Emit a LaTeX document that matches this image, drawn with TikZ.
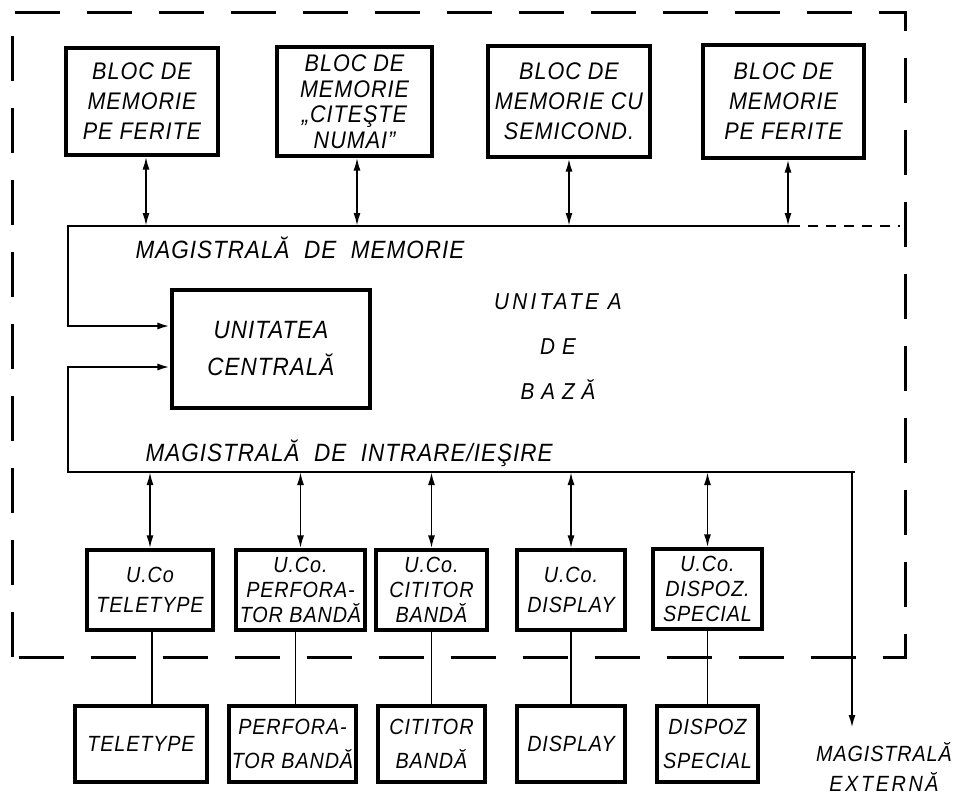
\documentclass[tikz,border=0pt]{standalone}
\usepackage{fontspec}
\setmainfont{Liberation Sans}[LetterSpace=4,FakeStretch=0.9]
\usetikzlibrary{arrows.meta}
\begin{document}
\begin{tikzpicture}[x=1pt,y=-1pt,
  box/.style={draw,line width=3.2pt,inner sep=0pt,align=center},
  memfont/.style={font=\itshape\fontsize{24}{30}\selectfont},
  memfonttwo/.style={font=\itshape\fontsize{24}{25.5}\selectfont},
  cofont/.style={font=\itshape\fontsize{22}{25}\selectfont},
  cofontwide/.style={font=\itshape\fontsize{22}{30}\selectfont},
  devfont/.style={font=\itshape\fontsize{22}{34}\selectfont},
  lblfont/.style={font=\itshape\fontsize{25}{26}\selectfont},
  bus/.style={line width=2.4pt},
  biarrow/.style={line width=1.9pt,{Latex[length=13pt,width=7pt]}-{Latex[length=13pt,width=7pt]}},
  onearrow/.style={line width=2pt,-{Latex[length=13pt,width=7pt]}},
  link/.style={line width=1.9pt},
  boundary/.style={line width=3pt,dash pattern=on 45pt off 27pt},
  shortdash/.style={line width=2.4pt,dash pattern=on 10pt off 8pt}
]
\useasboundingbox (0,0) rectangle (958,795);
\fill[white] (0,0) rectangle (958,795);

% outer dashed boundary
\draw[boundary] (12,657) -- (12,12) -- (905,12) -- (905,657) -- cycle;

% memory blocks
\node[box,memfont,minimum width=152pt,minimum height=107pt] (m1) at (142,101.5) {BLOC DE\\MEMORIE\\PE FERITE};
\node[box,memfonttwo,minimum width=155pt,minimum height=109pt] (m2) at (354.5,101.5) {BLOC DE\\MEMORIE\\„CITEŞTE\\NUMAI”};
\node[box,memfont,minimum width=162pt,minimum height=111pt] (m3) at (569,101.5) {BLOC DE\\MEMORIE CU\\SEMICOND.};
\node[box,memfont,minimum width=161pt,minimum height=113pt] (m4) at (783.5,101.5) {BLOC DE\\MEMORIE\\PE FERITE};

% memory bus
\coordinate (mbL) at (68,226);
\coordinate (mbR) at (790,226);
\coordinate (mbE) at (900,226);

% central unit
\node[box,font=\itshape\fontsize{25}{37}\selectfont,minimum width=198pt,minimum height=118pt] (cpu) at (271,349) {UNITATEA\\CENTRALĂ};

\draw[bus,-{Latex[length=13pt,width=7pt]}] (mbR) -- (mbL) |- ([yshift=23pt]cpu.west);
\draw[shortdash] (mbR) -- (mbE);

\draw[biarrow] ([xshift=4pt]m1.south) -- ([xshift=4pt]m1.south |- mbL);
\draw[biarrow] ([xshift=2.5pt]m2.south) -- ([xshift=2.5pt]m2.south |- mbL);
\draw[biarrow] (m3.south) -- (m3.south |- mbL);
\draw[biarrow] ([xshift=4.5pt]m4.south) -- ([xshift=4.5pt]m4.south |- mbL);

\node[lblfont,anchor=west] (mblbl) at (132,248) {MAGISTRALĂ\ \ DE\ \ MEMORIE};

\node[font=\itshape\fontsize{23}{45}\selectfont,align=center] (base) at (558,347)
  {{\addfontfeature{LetterSpace=14}UNITATE\ A}\\{\addfontfeature{LetterSpace=30}DE}\\{\addfontfeature{LetterSpace=30}BAZĂ}};

% I/O bus
\coordinate (ioL) at (68,472);
\coordinate (ioR) at (855,472);
\coordinate (extT) at (852,472);
\coordinate (extB) at (852,728);
\draw[bus,-{Latex[length=13pt,width=7pt]}] (ioR) -- (ioL) |- ([yshift=-18pt]cpu.west);
\node[lblfont,anchor=west] (iolbl) at (142,453) {MAGISTRALĂ\ \ DE\ \ INTRARE/IEŞIRE};

\draw[onearrow] (extT) -- (extB);
\node[font=\itshape\fontsize{22}{30}\selectfont,align=center] (extlbl) at (884,767) {MAGISTRALĂ\\{\addfontfeature{LetterSpace=12}EXTERNĂ}};

% controllers
\node[box,cofontwide,minimum width=126pt,minimum height=80pt] (c1) at (150,590) {U.Co\\TELETYPE};
\node[box,cofont,minimum width=129pt,minimum height=80pt] (c2) at (300.5,590) {U.Co.\\PERFORA-\\TOR BANDĂ};
\node[box,cofont,minimum width=111pt,minimum height=80pt] (c3) at (431.5,590) {U.Co.\\CITITOR\\BANDĂ};
\node[box,cofontwide,minimum width=108pt,minimum height=80pt] (c4) at (571,590) {U.Co.\\DISPLAY};
\node[box,cofont,minimum width=109pt,minimum height=80pt] (c5) at (707.5,589) {U.Co.\\DISPOZ.\\SPECIAL};

\foreach \c in {c1,c2,c3,c4,c5}{
  \draw[biarrow] (\c.north) -- (\c.north |- ioL);
}

% devices
\node[box,devfont,minimum width=132pt,minimum height=76pt] (d1) at (141,744) {TELETYPE};
\node[box,devfont,minimum width=127pt,minimum height=76pt] (d2) at (292.5,744) {PERFORA-\\TOR BANDĂ};
\node[box,devfont,minimum width=107pt,minimum height=76pt] (d3) at (431.5,744) {CITITOR\\BANDĂ};
\node[box,devfont,minimum width=108pt,minimum height=76pt] (d4) at (571,744) {DISPLAY};
\node[box,devfont,minimum width=101pt,minimum height=76pt] (d5) at (707.5,744) {DISPOZ\\SPECIAL};

\draw[link] ([xshift=2pt]c1.south) -- ([xshift=2pt]c1.south |- d1.north);
\draw[link] ([xshift=-5pt]c2.south) -- ([xshift=-5pt]c2.south |- d2.north);
\draw[link] (c3.south) -- (c3.south |- d3.north);
\draw[link] (c4.south) -- (c4.south |- d4.north);
\draw[link] (c5.south) -- (c5.south |- d5.north);
\end{tikzpicture}
\end{document}
